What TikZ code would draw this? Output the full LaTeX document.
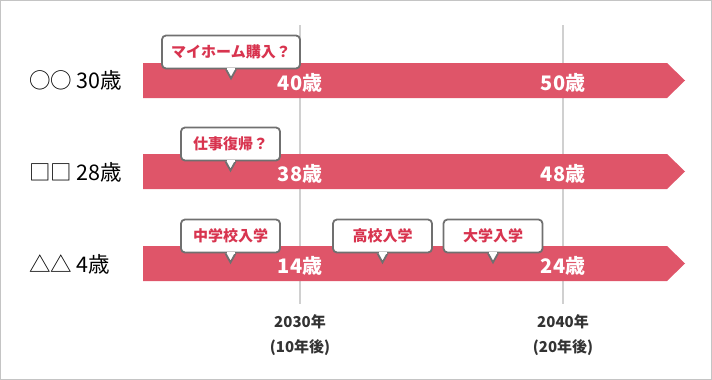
\documentclass[tikz,border=0pt]{standalone}
\usepackage{fontspec}
\setmainfont{Noto Sans CJK JP}
\definecolor{barred}{HTML}{DF5569}
\definecolor{calltext}{HTML}{D8344F}
\definecolor{callborder}{HTML}{707070}
\definecolor{gridgray}{HTML}{D0D0D0}
\definecolor{framegray}{HTML}{C4C4C4}
\definecolor{darktext}{HTML}{333333}
\tikzset{
  bararrow/.style={fill=barred, draw=none},
  agelabel/.style={anchor=base, text=white, font=\bfseries\fontsize{20}{22}\selectfont, inner sep=0pt},
  namelabel/.style={anchor=base west, text=black, font=\fontsize{21.5}{23}\selectfont, inner sep=0pt},
  callbox/.style={draw=callborder, line width=1.8pt, fill=white, rounded corners=4pt,
    minimum height=33pt, inner sep=0pt, text=calltext, font=\bfseries\fontsize{15}{17}\selectfont},
  callside/.style={draw=callborder, line width=1.8pt, fill=white, line join=miter},
  gridline/.style={draw=gridgray, line width=1.4pt},
  yearlabel/.style={anchor=base, text=darktext, font=\bfseries\fontsize{15}{17}\selectfont, inner sep=0pt},
}
\newcommand{\mycallout}[5]{% name, cx, cy, width, text
  \node[callbox, minimum width=#4pt] (#1) at (#2,#3) {#5};
  \coordinate (#1tip) at ([yshift=-9pt]#1.south);
  \path[callside] ([xshift=-5pt]#1.south) -- (#1tip) -- ([xshift=5pt]#1.south);
  \fill[white] ([xshift=-4pt,yshift=1.2pt]#1.south) rectangle ([xshift=4pt,yshift=-0.8pt]#1.south);
}
\begin{document}
\begin{tikzpicture}[x=1pt, y=-1pt]
\useasboundingbox (0,0) rectangle (712,380);
\draw[framegray, line width=1.2pt] (0.6,0.6) rectangle (711.4,379.4);

% grid lines
\coordinate (g1top) at (300,25);
\coordinate (g1bot) at (300,304);
\coordinate (g2top) at (563,25);
\coordinate (g2bot) at (563,304);
\draw[gridline] (g1top) -- (g1bot);
\draw[gridline] (g2top) -- (g2bot);

% bars
\foreach \t/\n in {63/barA,154/barB,246/barC}{
  \path[bararrow] (143,\t) -- (667,\t) -- (685,\t+17.5) -- (667,\t+35) -- (143,\t+35) -- cycle;
}

% left labels
\node[namelabel] (nA) at (29,88) {○○ 30歳};
\node[namelabel] (nB) at (29,180) {□□ 28歳};
\node[namelabel] (nC) at (29,272) {△△ 4歳};

% ages on bars
\node[agelabel] (a1) at (300,90) {40歳};
\node[agelabel] (a2) at (563,90) {50歳};
\node[agelabel] (b1) at (300,181) {38歳};
\node[agelabel] (b2) at (563,181) {48歳};
\node[agelabel] (c1) at (300,273) {14歳};
\node[agelabel] (c2) at (563,273) {24歳};

% callouts
\mycallout{cA}{231}{52}{138}{マイホーム購入？}
\mycallout{cB}{230.5}{144}{99}{仕事復帰？}
\mycallout{cC}{230.5}{236}{99}{中学校入学}
\mycallout{cD}{382.5}{236}{99}{高校入学}
\mycallout{cE}{493}{236}{99}{大学入学}

% year labels
\node[yearlabel] (y1) at (300,327) {2030年};
\node[yearlabel] (y1b) at (300,352) {(10年後)};
\node[yearlabel] (y2) at (563,327) {2040年};
\node[yearlabel] (y2b) at (563,352) {(20年後)};
\end{tikzpicture}
\end{document}
